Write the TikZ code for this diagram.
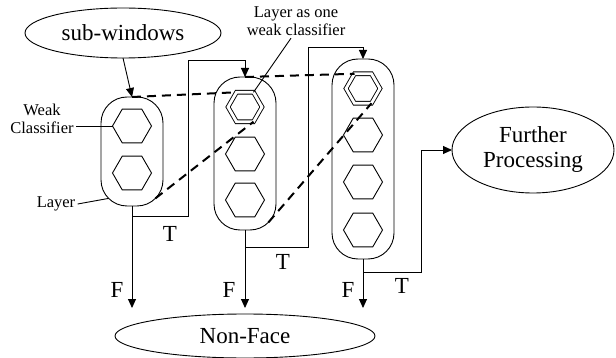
\documentclass[tikz,border=0pt]{standalone}
\usepackage{fontspec}
\setmainfont{Liberation Serif}
\usetikzlibrary{shapes.geometric,arrows.meta,calc}

\tikzset{
  layerbox/.style={draw, rounded corners=26pt, minimum width=62pt, inner sep=0pt, outer sep=0pt},
  weakcl/.style={draw, regular polygon, regular polygon sides=6, minimum size=39pt, inner sep=0pt, outer sep=0pt},
  oneweak/.style={draw, double, double distance=2.8pt, regular polygon, regular polygon sides=6, minimum size=34pt, inner sep=0pt, outer sep=0pt},
  blob/.style={draw, ellipse, inner sep=0pt, outer sep=0pt, align=center, font=\fontsize{23}{25}\selectfont},
  note/.style={inner sep=2pt, align=center, font=\fontsize{16.5}{18.5}\selectfont},
  tf/.style={inner sep=0pt, font=\fontsize{23}{25}\selectfont},
  arr/.style={-{Triangle[length=9pt,width=8pt]}},
  cascade/.style={line width=2pt, dash pattern=on 9pt off 6pt},
}

\begin{document}
\begin{tikzpicture}[x=1pt, y=-1pt, line width=0.9pt]
%\draw[help lines, color=gray!30, dashed] (0,0) grid[step=20] (616,358);
\useasboundingbox (0,0) rectangle (616,358);
\node[blob, minimum width=196pt, minimum height=50pt] (sw) at (123,33) {sub-windows};
\node[blob, minimum width=162pt, minimum height=86pt] (fp) at (533,150) {Further\\Processing};
\node[blob, minimum width=260pt, minimum height=44pt] (nf) at (245,336) {Non-Face};

\node[layerbox, minimum height=109pt] (L1) at (132,151.5) {};
\node[layerbox, minimum height=153pt] (L2) at (245,153.5) {};
\node[layerbox, minimum height=200pt] (L3) at (363,159) {};

\node[weakcl] (h11) at (132,126) {};
\node[weakcl] (h12) at (132,173) {};
\node[oneweak] (h21) at (245,107) {};
\node[weakcl] (h22) at (245,154) {};
\node[weakcl] (h23) at (245,200) {};
\node[oneweak] (h31) at (363,88.5) {};
\node[weakcl] (h32) at (363,135) {};
\node[weakcl] (h33) at (363,182) {};
\node[weakcl] (h34) at (363,230) {};

\node[note] (wc) at (42,119) {Weak\\Classifier};
\node[note] (lay) at (56,204) {Layer};
\node[note] (one) at (296,21) {Layer as one\\weak classifier};

\coordinate (fend) at (245,308);
\coordinate (t1) at ($(L1.south)+(0,10)$);
\coordinate (t2) at ($(L2.south)+(0,17)$);
\coordinate (t3) at ($(L3.south)+(0,13)$);
\coordinate (c0) at ($(L1.south west)+(7.6,-7.6)$);
\coordinate (c1) at ($(L1.south east)+(-7.6,-7.6)$);
\coordinate (c2) at ($(L2.south east)+(-7.6,-7.6)$);

\draw[arr] (sw.south) -- (L1.north);
\draw[arr] (L1.south) -- (L1.south |- fend);
\draw[arr] (L2.south) -- (L2.south |- fend);
\draw[arr] (L3.south) -- (L3.south |- fend);
\draw[arr] (t1) -| (188,60) -| (L2.north);
\draw[arr] (t2) -| (308,47) -| (L3.north);
\draw[arr] (t3) -| (421,150) -- (fp.west);

\node[tf] (T1) at (170,234) {T};
\node[tf] (T2) at (283,262) {T};
\node[tf] (T3) at (402,286) {T};
\node[tf] (F1) at (117,290) {F};
\node[tf] (F2) at (229,290) {F};
\node[tf] (F3) at (348,290) {F};

\draw[cascade] (L1.north) -- (h21.120);
\draw[cascade] (L2.north) -- (h31.120);
\draw[cascade] (c1) -- (h21.300);
\draw[cascade] (c2) -- (h31.300);

\draw (h11.west) -- (wc.east |- h11.west);
\draw (c0) -- (lay.east);
\draw ($(one.south)+(-5,0)$) -- (h21.60);
\end{tikzpicture}
\end{document}
